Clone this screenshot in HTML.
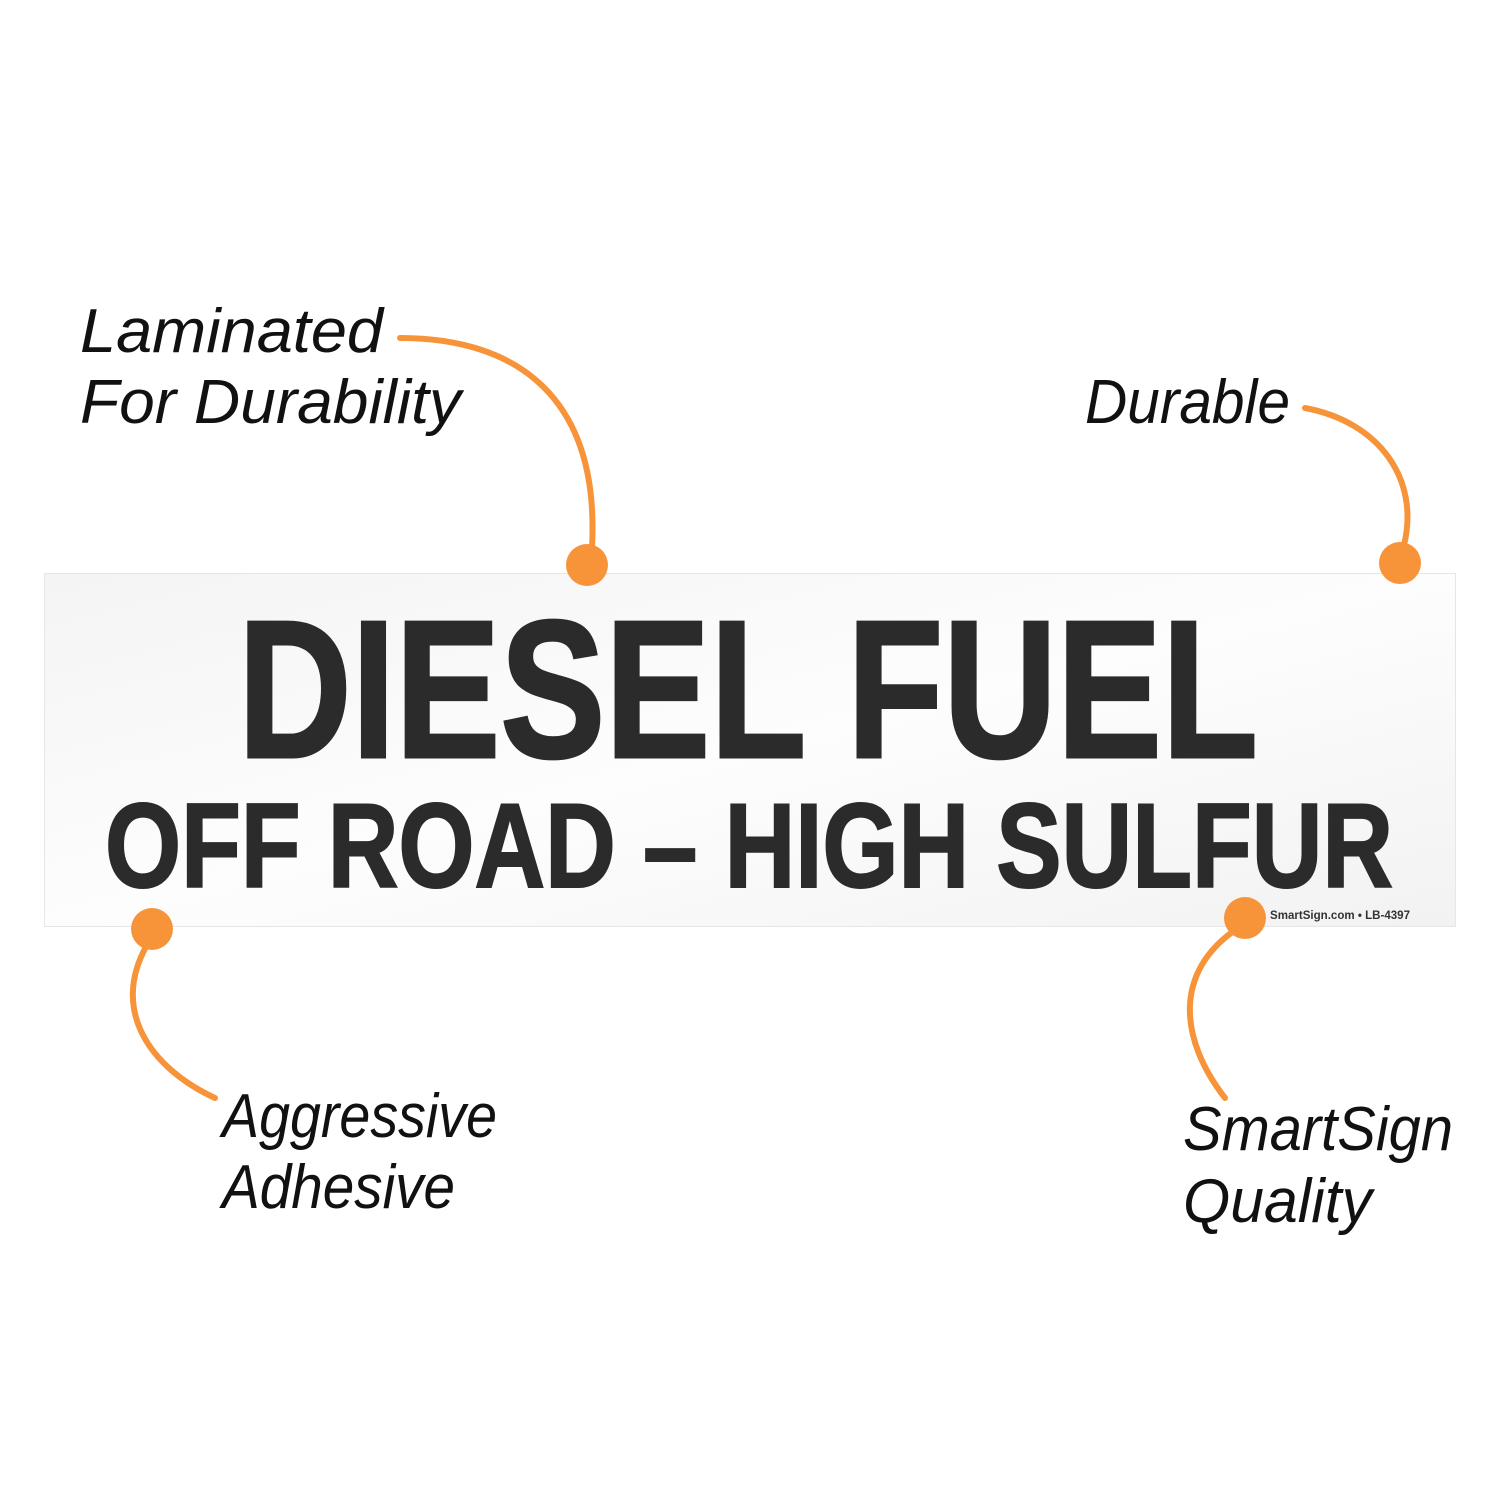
<!DOCTYPE html>
<html><head><meta charset="utf-8"><style>
html,body{margin:0;padding:0;background:#fff;}
svg{display:block;}
</style></head><body>
<svg width="1500" height="1500" viewBox="0 0 1500 1500" xmlns="http://www.w3.org/2000/svg">
<defs>
<linearGradient id="g" x1="0" y1="0" x2="1" y2="1">
<stop offset="0" stop-color="#f4f4f4"/><stop offset="0.5" stop-color="#fdfdfd"/><stop offset="1" stop-color="#f2f2f2"/>
</linearGradient>
</defs>
<rect x="44.5" y="573.5" width="1411" height="353" fill="url(#g)" stroke="#e6e6e6" stroke-width="1"/>
<text x="238" y="757" textLength="1020" lengthAdjust="spacingAndGlyphs" font-family="'Liberation Sans Narrow','Liberation Sans',sans-serif" font-weight="bold" font-size="196" fill="#2b2b2b" stroke="#2b2b2b" stroke-width="3">DIESEL FUEL</text>
<text x="105" y="887" textLength="1288" lengthAdjust="spacingAndGlyphs" font-family="'Liberation Sans Narrow','Liberation Sans',sans-serif" font-weight="bold" font-size="120" fill="#2b2b2b" stroke="#2b2b2b" stroke-width="2">OFF ROAD – HIGH SULFUR</text>
<text x="1270" y="919" textLength="140" lengthAdjust="spacingAndGlyphs" font-family="'Liberation Sans Narrow','Liberation Sans',sans-serif" font-weight="bold" font-size="12" fill="#333">SmartSign.com • LB-4397</text>

<g fill="none" stroke="#f7943a" stroke-width="6" stroke-linecap="round">
<path d="M400,338 C520,338 600,400 592,548"/>
<path d="M1305,408 C1380,422 1420,480 1404,545"/>
<path d="M215,1098 C150,1068 110,1010 147,945"/>
<path d="M1225,1098 C1180,1040 1172,972 1238,928"/>
</g>
<g fill="#f7943a">
<circle cx="587" cy="565" r="21"/>
<circle cx="1400" cy="563" r="21"/>
<circle cx="152" cy="929" r="21"/>
<circle cx="1245" cy="918" r="21"/>
</g>
<g font-family="'Liberation Sans',sans-serif" font-style="italic" font-size="62" fill="#111" lengthAdjust="spacingAndGlyphs">
<text x="80" y="352" textLength="303" lengthAdjust="spacingAndGlyphs">Laminated</text>
<text x="80" y="423" textLength="381" lengthAdjust="spacingAndGlyphs">For Durability</text>
<text x="1085" y="423" textLength="205" lengthAdjust="spacingAndGlyphs">Durable</text>
<text x="222" y="1137" textLength="275" lengthAdjust="spacingAndGlyphs">Aggressive</text>
<text x="222" y="1208" textLength="233" lengthAdjust="spacingAndGlyphs">Adhesive</text>
<text x="1183" y="1150" textLength="270" lengthAdjust="spacingAndGlyphs">SmartSign</text>
<text x="1183" y="1222" textLength="189" lengthAdjust="spacingAndGlyphs">Quality</text>
</g>
</svg>
</body></html>
